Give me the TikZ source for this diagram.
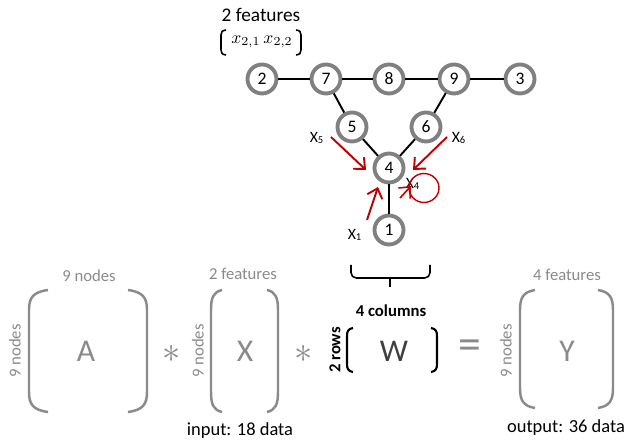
\documentclass[tikz,border=0pt]{standalone}
\usepackage{fontspec}
\setmainfont{Carlito}
\usetikzlibrary{arrows.meta}
\definecolor{ringgray}{HTML}{808080}
\definecolor{lblgray}{HTML}{8A8A8A}
\definecolor{penred}{HTML}{C00000}
% paren: [style](stem x, top y, bottom y : curl width : curl depth)
\def\mparen[#1](#2,#3,#4:#5:#6){\draw[#1] (#2+#5,#3) .. controls (#2+0.2*#5,#3+0.1*#6) and (#2,#3+0.4*#6) .. (#2,#3+#6) -- (#2,#4-#6) .. controls (#2,#4-0.4*#6) and (#2+0.2*#5,#4-0.1*#6) .. (#2+#5,#4);}

\begin{document}
\begin{tikzpicture}[x=0.02cm,y=-0.02cm,
    vtx/.style={circle,draw=ringgray,line width=2.2pt,fill=white,minimum size=0.58cm,inner sep=0pt,font=\fontsize{10}{12}\selectfont},
    edge/.style={line width=1.1pt},
    redarrow/.style={penred,line width=1.1pt,-{Straight Barb[length=5pt,width=9pt]}},
    glabel/.style={lblgray,font=\fontsize{9.5}{11}\selectfont},
    xlabel/.style={font=\fontsize{9}{11}\selectfont},
    bigletter/.style={lblgray,font=\fontsize{18}{20}\selectfont}]
    %%%%% START %%%%%
    \useasboundingbox (0,0) rectangle (630,445);

    % graph
    \node[vtx] (n2) at (262,79) {2};
    \node[vtx] (n7) at (326,79) {7};
    \node[vtx] (n8) at (389,79) {8};
    \node[vtx] (n9) at (454,79) {9};
    \node[vtx] (n3) at (520,79) {3};
    \node[vtx] (n5) at (352,127) {5};
    \node[vtx] (n6) at (426,127) {6};
    \node[vtx] (n4) at (389,168) {4};
    \node[vtx] (n1) at (389,230) {1};

    \draw[edge] (n2) -- (n7);
    \draw[edge] (n7) -- (n8);
    \draw[edge] (n8) -- (n9);
    \draw[edge] (n9) -- (n3);
    \draw[edge] (n7) -- (n5);
    \draw[edge] (n9) -- (n6);
    \draw[edge] (n5) -- (n4);
    \draw[edge] (n6) -- (n4);
    \draw[edge] (n4) -- (n1);

    \node (feat) at (261,15) {\fontsize{11}{13}\selectfont 2 features};
    \node (xrow) at (262,42) {\fontsize{10}{12}\selectfont $x_{2,1}\,x_{2,2}$};
    \mparen[line width=0.9pt](221,30,55:5:5);
    \mparen[line width=0.9pt](301,30,55:-5:5);

    % messages into node 4
    \node[xlabel] (x5) at (317,138) {X\textsubscript{5}};
    \node[xlabel] (x6) at (459,138) {X\textsubscript{6}};
    \node[xlabel] (x1) at (355,235) {X\textsubscript{1}};
    \node[xlabel] (x4) at (413,184) {X\textsubscript{4}};
    \coordinate (a5s) at (331,137);
    \coordinate (a5e) at (366,170);
    \coordinate (a6s) at (447,137);
    \coordinate (a6e) at (413,170);
    \coordinate (a1s) at (367,220);
    \coordinate (a1e) at (378,187);
    \coordinate (a4s) at (400,198);
    \coordinate (a4e) at (411,186);
    \draw[redarrow] (a5s) -- (a5e);
    \draw[redarrow] (a6s) -- (a6e);
    \draw[redarrow] (a1s) -- (a1e);
    \draw[redarrow,line width=0.9pt] (a4s) -- (a4e);
    \draw[penred,line width=0.8pt] (424,188) ellipse [x radius=0.3cm,y radius=0.29cm];

    % brace over W
    \draw[line width=0.9pt,rounded corners=3] (351,265) -- (351,278) -- (430,278) -- (430,265);
    \draw[line width=0.9pt] (390,278) -- (390,287);

    % A
    \node[glabel] (anodes) at (89,276) {9 nodes};
    \node[glabel,rotate=90] (arows) at (15,351) {9 nodes};
    \mparen[lblgray,line width=1.4pt](29,290,412:19:20);
    \mparen[lblgray,line width=1.4pt](147,290,412:-19:20);
    \node[bigletter] (A) at (86,351) {A};
    \node[lblgray,font=\fontsize{21}{21}\selectfont] (op1) at (172,354) {$\ast$};

    % X
    \node[glabel] (xfeat) at (243,274) {2 features};
    \node[glabel,rotate=90] (xrows) at (198,351) {9 nodes};
    \mparen[lblgray,line width=1.4pt](211,290,412:11:20);
    \mparen[lblgray,line width=1.4pt](278,290,412:-11:20);
    \node[bigletter] (X) at (245,351) {X};
    \node[lblgray,font=\fontsize{21}{21}\selectfont] (op2) at (304,354) {$\ast$};
    \node[font=\fontsize{10.5}{12}\selectfont] (inp) at (240,431) {input: 18 data};

    % W
    \node[font=\bfseries\fontsize{9.5}{11}\selectfont] (wcols) at (391,311) {4 columns};
    \node[font=\bfseries\fontsize{9.5}{11}\selectfont,rotate=90] (wrows) at (335,350) {2 rows};
    \mparen[line width=1.2pt](347,328,372:6:8);
    \mparen[line width=1.2pt](437,328,372:-6:8);
    \node[font=\fontsize{18}{20}\selectfont,black!75] (W) at (394,351) {W};
    \node[lblgray,font=\fontsize{26}{26}\selectfont] (eq) at (470,350) {=};

    % Y
    \node[glabel] (yfeat) at (567,275) {4 features};
    \node[glabel,rotate=90] (yrows) at (506,351) {9 nodes};
    \mparen[lblgray,line width=1.4pt](520,290,408:15:20);
    \mparen[lblgray,line width=1.4pt](613,290,408:-15:20);
    \node[bigletter] (Y) at (567,351) {Y};
    \node[font=\fontsize{10.5}{12}\selectfont] (outp) at (566,428) {output: 36 data};
    %%%%% END %%%%%
\end{tikzpicture}
\end{document}
